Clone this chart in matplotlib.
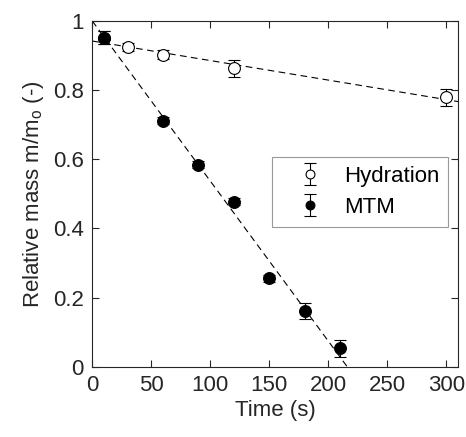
import numpy as np
from matplotlib import pyplot as plt

plt.rcParams['font.family'] = ['Liberation Sans', 'DejaVu Sans']

# data
t_hyd = [10, 30, 60, 120, 300]
m_hyd = [0.952, 0.924, 0.903, 0.863, 0.779]
e_hyd = [0.019, 0.012, 0.012, 0.024, 0.024]

t_mtm = [10, 60, 90, 120, 150, 180, 210]
m_mtm = [0.952, 0.711, 0.584, 0.477, 0.255, 0.161, 0.053]
e_mtm = [0.02, 0.01, 0.01, 0.01, 0.01, 0.023, 0.024]

# linear fits (intercept, slope)
fit_hyd = (0.942, -0.000565)
fit_mtm = (1.0, -0.00463)

dark = '#262626'
fs = 16

fig = plt.figure(figsize=(4.66, 4.37), dpi=100)
ax = fig.add_axes([0.198, 0.161, 0.785, 0.791])

tt = np.array([0, 310])
ax.plot(tt, fit_hyd[0] + fit_hyd[1]*tt, '--', color='k', lw=0.8, dashes=(6, 4))
ax.plot(tt, fit_mtm[0] + fit_mtm[1]*tt, '--', color='k', lw=0.8, dashes=(6, 4))

ax.errorbar(t_hyd, m_hyd, yerr=e_hyd, fmt='o', mfc='white', mec='k', ecolor='k',
            ms=8.5, mew=0.8, elinewidth=0.8, capsize=4.3, capthick=0.8, label='Hydration')
ax.errorbar(t_mtm, m_mtm, yerr=e_mtm, fmt='o', mfc='k', mec='k', ecolor='k',
            ms=8.5, mew=0.8, elinewidth=0.8, capsize=4.3, capthick=0.8, label='MTM')

ax.set_xlim(0, 310)
ax.set_ylim(0, 1)
ax.set_xticks([0, 50, 100, 150, 200, 250, 300])
ax.set_yticks([0, 0.2, 0.4, 0.6, 0.8, 1])
ax.set_yticklabels(['0', '0.2', '0.4', '0.6', '0.8', '1'])
ax.tick_params(direction='in', top=True, right=True, length=5, width=0.8,
               labelsize=fs, colors=dark, pad=6)
for s in ax.spines.values():
    s.set_color(dark)
    s.set_linewidth(0.8)

ax.set_xlabel('Time (s)', fontsize=fs, color=dark, labelpad=3)
ax.set_ylabel('Relative mass m/m$_\\mathregular{o}$ (-)', fontsize=fs, color=dark, labelpad=5)

leg = ax.legend(loc='upper left', bbox_to_anchor=(0.491, 0.607), fontsize=fs,
                frameon=True, fancybox=False, edgecolor='#808080', markerscale=0.75,
                borderaxespad=0, handlelength=2.6, handletextpad=0.25,
                borderpad=0.4, labelspacing=0.45)
leg.get_frame().set_linewidth(0.8)

fig.savefig('out.png', dpi=100)
